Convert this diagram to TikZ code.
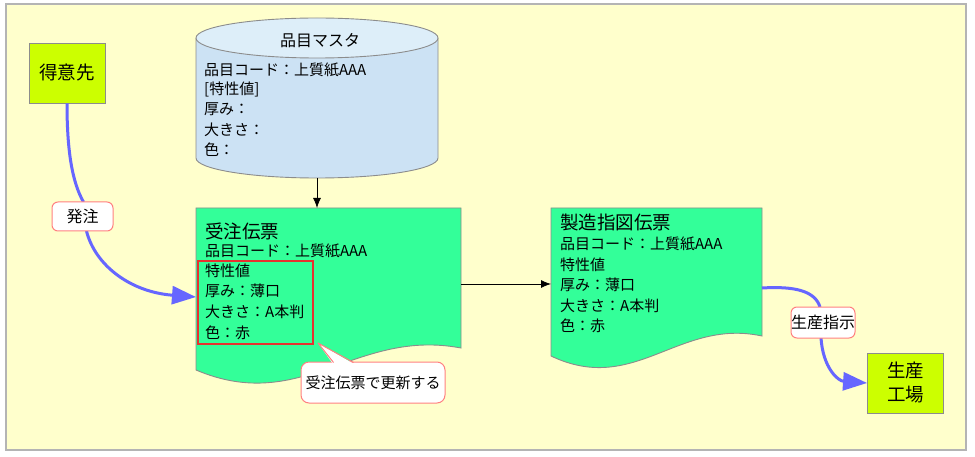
\documentclass[tikz,border=0pt]{standalone}
\usepackage{fontspec}
\setmainfont{Noto Sans CJK JP}
\usetikzlibrary{arrows.meta}
\definecolor{bgy}{HTML}{FFFFCC}
\definecolor{framegray}{HTML}{B4B4B4}
\definecolor{boxgreen}{HTML}{CCFF00}
\definecolor{docgreen}{HTML}{33FF99}
\definecolor{cyltop}{HTML}{DDEEF9}
\definecolor{cylbody}{HTML}{CCE2F4}
\definecolor{edgegray}{HTML}{8C8C8C}
\definecolor{cblue}{HTML}{6666FF}
\definecolor{lblred}{HTML}{FF8080}
\definecolor{boxred}{HTML}{E8312F}
\tikzset{
  gbox/.style={draw=edgegray, fill=boxgreen, line width=0.9pt, inner sep=0,
    minimum width=76pt, minimum height=60pt, align=center,
    font=\fontsize{18.5}{24}\selectfont},
  ghost/.style={inner sep=0, outer sep=0},
  docshape/.style={draw=edgegray, fill=docgreen, line width=0.9pt},
  tx/.style={anchor=west, inner sep=0, font=\fontsize{15}{17}\selectfont},
  ttl/.style={anchor=west, inner sep=0, font=\fontsize{18.5}{22}\selectfont},
  lbl/.style={draw=lblred, fill=white, rounded corners=6pt, line width=1pt,
    inner sep=0, font=\fontsize{16}{18}\selectfont},
  bline/.style={draw=cblue, line width=3pt},
  barrow/.style={draw=cblue, line width=3pt, -{Triangle[length=24pt,width=18pt]}},
  karrow/.style={draw=black, line width=0.8pt, -{Latex[length=10pt,width=8pt]}},
}
\begin{document}
\begin{tikzpicture}[x=1pt,y=-1pt]
\useasboundingbox (0,0) rectangle (975,457);
\fill[white] (0,0) rectangle (975,457);
\draw[draw=framegray, fill=bgy, line width=1.3pt] (6,4) rectangle (966,450);

% customer
\node[gbox] (tok) at (67,73) {得意先};
% factory
\node[gbox] (kj) at (905.5,383) {生産\\工場};

% cylinder (item master)
\node[ghost, minimum width=242pt, minimum height=160pt] (hm) at (317,98) {};
\fill[cylbody] (196,38) -- (196,158) arc[start angle=180, end angle=0, x radius=121, y radius=20] -- (438,38) -- cycle;
\draw[edgegray, line width=0.9pt] (196,38) -- (196,158) arc[start angle=180, end angle=0, x radius=121, y radius=20] -- (438,38);
\draw[edgegray, fill=cyltop, line width=0.9pt] (317,38) ellipse[x radius=121, y radius=20];
\node[inner sep=0, font=\fontsize{16}{18}\selectfont] (hmt) at (320,41) {品目マスタ};
\node[tx] (h1) at (204,70) {品目コード：上質紙AAA};
\node[tx] (h2) at (204,89.5) {[特性値]};
\node[tx] (h3) at (204,109.5) {厚み：};
\node[tx] (h4) at (204,129.5) {大きさ：};
\node[tx] (h5) at (204,150) {色：};

% order slip
\node[ghost, minimum width=265pt, minimum height=140pt] (jd) at (328.5,278) {};
\draw[docshape] (jd.north west) -- (jd.north east) -- (jd.south east)
  .. controls (355,328) and (302,415) .. (196,370) -- cycle;
% manufacturing slip
\node[ghost, minimum width=211pt, minimum height=128pt] (zs) at (656.5,272) {};
\draw[docshape] (zs.north west) -- (zs.north east) -- (zs.south east)
  .. controls (678,318) and (635,396) .. (551,356) -- cycle;

% red box
\node[draw=boxred, line width=2pt, minimum width=115pt, minimum height=83pt, inner sep=0] (rb) at (255.5,302.5) {};

% order slip text
\node[ttl] (j0) at (205,231) {受注伝票};
\node[tx] (j1) at (205,251) {品目コード：上質紙AAA};
\node[tx] (j2) at (205,270.5) {特性値};
\node[tx] (j3) at (205,291) {厚み：薄口};
\node[tx] (j4) at (205,311.5) {大きさ：A本判};
\node[tx] (j5) at (205,332.5) {色：赤};

% manufacturing slip text
\node[ttl] (z0) at (560,222) {製造指図伝票};
\node[tx] (z1) at (560,244) {品目コード：上質紙AAA};
\node[tx] (z2) at (560,264.5) {特性値};
\node[tx] (z3) at (560,285) {厚み：薄口};
\node[tx] (z4) at (560,306) {大きさ：A本判};
\node[tx] (z5) at (560,326) {色：赤};

% callout
\node[draw=lblred, fill=white, rounded corners=8pt, line width=1pt, inner sep=0,
  minimum width=144pt, minimum height=41pt, font=\fontsize{15}{17}\selectfont] (cb) at (373,382.5) {受注伝票で更新する};
\coordinate (tip) at (318,343);
\fill[white] (333,364) -- (tip) -- (354,364) -- cycle;
\draw[lblred, line width=1pt, line join=round] (333.5,362.5) -- (tip) -- (353.5,362.5);

% black arrows
\draw[karrow] (hm.south) -- (hm.south |- jd.north);
\coordinate (a1) at ([yshift=-6pt]jd.east);
\draw[karrow] (a1) -- (a1 -| zs.west);

% label positions
\node[ghost, minimum width=61pt, minimum height=29pt] (lab1p) at (82.5,216.5) {};
\node[ghost, minimum width=62pt, minimum height=31pt] (lab2p) at (823,322.5) {};

% blue connectors
\draw[bline] (tok.south) .. controls (67,150) and (72,182) .. ([xshift=1pt]lab1p.north);
\draw[barrow] ([xshift=4pt]lab1p.south) .. controls (95,265) and (130,292) .. ([yshift=-19pt]jd.west);
\draw[bline] ([yshift=-16pt]zs.east) .. controls (795,286) and (815,291) .. ([xshift=-3pt]lab2p.north);
\draw[barrow] ([xshift=-2pt]lab2p.south) .. controls (823,368) and (838,381) .. (kj.west);

% labels on top
\node[lbl, minimum width=61pt, minimum height=29pt] (lab1) at (lab1p) {発注};
\node[lbl, minimum width=62pt, minimum height=31pt] (lab2) at (lab2p) {生産指示};
\end{tikzpicture}
\end{document}
